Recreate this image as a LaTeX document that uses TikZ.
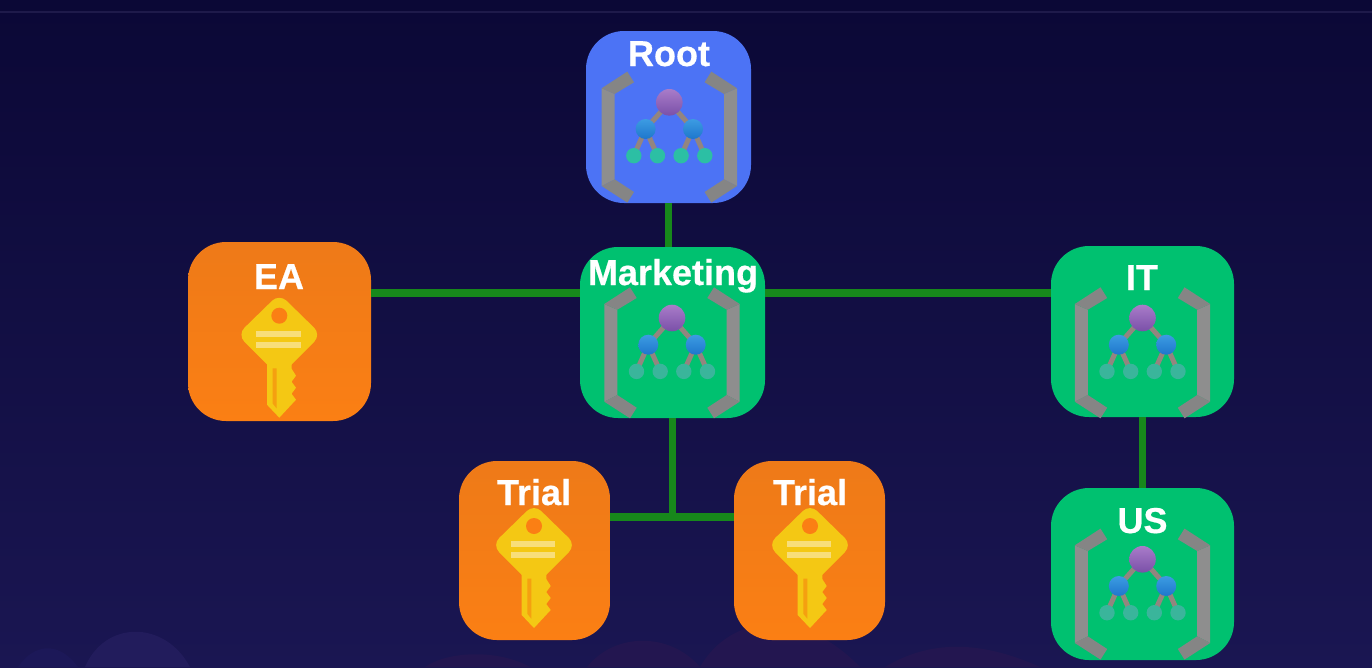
\documentclass[tikz,border=0pt]{standalone}
\usepackage{fontspec}
\setmainfont{Liberation Sans}[BoldFeatures={FakeBold=0.5}]
\usetikzlibrary{positioning}
\def\px{0.02cm}
\definecolor{bgtop}{HTML}{0B0836}
\definecolor{bgbottom}{HTML}{1A1652}
\definecolor{topline}{HTML}{1E1A4A}
\definecolor{hillblue}{HTML}{221C5C}
\definecolor{hillfaint}{HTML}{1C1858}
\definecolor{hillpurple}{HTML}{231650}
\definecolor{linkgreen}{HTML}{17881B}
\definecolor{boxblue}{HTML}{4C73F5}
\definecolor{boxgreen}{HTML}{00C170}
\definecolor{boxorange}{HTML}{FB7F14}
\definecolor{boxorangetop}{HTML}{EE7A18}
\definecolor{bracketgray}{HTML}{8E8E8E}
\definecolor{bracketdark}{HTML}{858585}
\definecolor{stemgray}{HTML}{93857F}
\definecolor{nodepurpletop}{HTML}{A97CC9}
\definecolor{nodepurplebot}{HTML}{7A50A8}
\definecolor{nodebluetop}{HTML}{3C9CE2}
\definecolor{nodebluebot}{HTML}{1E76CC}
\definecolor{leafroot}{HTML}{2CBFA4}
\definecolor{leafgreen}{HTML}{3AB59B}
\definecolor{keyyellow}{HTML}{F4C814}
\definecolor{keystripe}{HTML}{F8DE7A}
\definecolor{keygroove}{HTML}{F5A010}
\tikzset{
    box/.style={draw=none,inner sep=0pt,outer sep=0pt,rounded corners=38*\px},
    orgbox/.style={box,fill=#1,minimum width=183*\px,minimum height=171*\px},
    keybox/.style={box,top color=boxorangetop,bottom color=boxorange,minimum height=179*\px},
    title/.style={anchor=base,text=white,inner sep=0pt,font=\bfseries\fontsize{20.5}{24}\selectfont},
    link/.style={draw=linkgreen,line width=7.5*\px},
    pics/orgicon/.style={code={
        \foreach \s in {-1,1}{
            \fill[bracketgray](\s*54.7,-8.3)--(\s*67.7,-14)--(\s*67.7,83.7)--(\s*54.7,77)--cycle;
            \fill[bracketdark](\s*42,-30.7)--(\s*35.3,-20)--(\s*54.7,-8.3)--(\s*67.7,-14)--cycle;
            \fill[bracketdark](\s*54.7,77)--(\s*35.3,89.7)--(\s*42,100.3)--(\s*67.7,83.7)--cycle;
            \draw[stemgray,line width=5*\px](0,0)--(\s*23.7,26.7);
            \draw[stemgray,line width=5*\px](\s*23.7,26.7)--(\s*35.5,53.4);
            \draw[stemgray,line width=5*\px](\s*23.7,26.7)--(\s*11.8,53.4);
            \shade[top color=nodebluetop,bottom color=nodebluebot](\s*23.7,26.7)circle(10);
            \fill[#1](\s*35.5,53.4)circle(7.7);
            \fill[#1](\s*11.8,53.4)circle(7.7);
        }
        \shade[top color=nodepurpletop,bottom color=nodepurplebot](0,0)circle(13.3);
    }},
    pics/keyicon/.style={code={
        \fill[keyyellow,rounded corners=10*\px](0,-22)--(42,19)--(0,61)--(-42,19)--cycle;
        \fill[keyyellow](-12.3,45)--(-12.3,89)--(0,102)--(16.7,84)--(12.3,78)--(16.7,72)--(12.3,66)--(16.7,60)--(12.3,53)--(12.3,45)--cycle;
        \fill[keygroove](-6.7,52.7)--(-2.7,52.7)--(-2.7,92.7)--(-6.7,87.7)--cycle;
        \fill[boxorange](0,0)circle(8);
        \fill[keystripe](-23.3,15.3)rectangle(21.3,21.3);
        \fill[keystripe](-23.3,26)rectangle(21.3,32);
    }},
}
\begin{document}
\begin{tikzpicture}[x=\px,y=-\px]
    \useasboundingbox(0,0)rectangle(1372,667);
    % backdrop
    \shade[top color=bgtop,bottom color=bgbottom](0,0)rectangle(1372,667);
    \fill[topline](0,11)rectangle(1372,12.5);
    \fill[hillblue](85,667)..controls(105,620)and(165,620)..(190,667)--cycle;
    \fill[hillfaint](18,667)..controls(35,642)and(60,642)..(78,667)--cycle;
    \fill[hillpurple](425,667)..controls(450,650)and(500,650)..(530,667)--cycle;
    \fill[hillpurple](587,667)..controls(615,632)and(670,632)..(700,667)--cycle;
    \fill[hillpurple](700,667)..controls(730,615)and(800,605)..(860,667)--cycle;
    \fill[hillpurple](885,667)..controls(930,640)and(980,640)..(1040,667)--cycle;
    % boxes
    \node[orgbox=boxblue,minimum width=165*\px,minimum height=172*\px](root)at(668.5,117){};
    \node[keybox,minimum width=183*\px](ea)at(279.5,331.5){};
    \node[orgbox=boxgreen,minimum width=185*\px](marketing)at(672.5,332.5){};
    \node[orgbox=boxgreen](it)at(1142.5,331.5){};
    \node[keybox,minimum width=151*\px](trialleft)at(534.5,550.5){};
    \node[keybox,minimum width=151*\px](trialright)at(809.5,550.5){};
    \node[orgbox=boxgreen,minimum height=172*\px](us)at(1142.5,574){};
    % links
    \coordinate(upperbus)at(672.5,293);
    \coordinate(lowerbus)at(672.5,517);
    \draw[link](root.south)--(root.south|-marketing.north);
    \draw[link](ea.east|-upperbus)--(marketing.west|-upperbus);
    \draw[link](marketing.east|-upperbus)--(it.west|-upperbus);
    \draw[link](marketing.south)--(lowerbus);
    \draw[link](trialleft.east|-lowerbus)--(trialright.west|-lowerbus);
    \draw[link](it.south)--(us.north);
    % icons
    \pic at(669.3,102.3){orgicon=leafroot};
    \pic at(672,318){orgicon=leafgreen};
    \pic at(1142.5,318){orgicon=leafgreen};
    \pic at(1142.5,559.3){orgicon=leafgreen};
    \pic at(279.3,315.7){keyicon};
    \pic at(534,526){keyicon};
    \pic at(810,526){keyicon};
    % titles
    \node[title](roottitle)at(669,66){Root};
    \node[title](eatitle)at(279,289){EA};
    \node[title](marketingtitle)at(673,285){Marketing};
    \node[title](ittitle)at(1142,290){IT};
    \node[title](triallefttitle)at(534,505){Trial};
    \node[title](trialrighttitle)at(810,505){Trial};
    \node[title](ustitle)at(1142.5,533){US};
\end{tikzpicture}
\end{document}
